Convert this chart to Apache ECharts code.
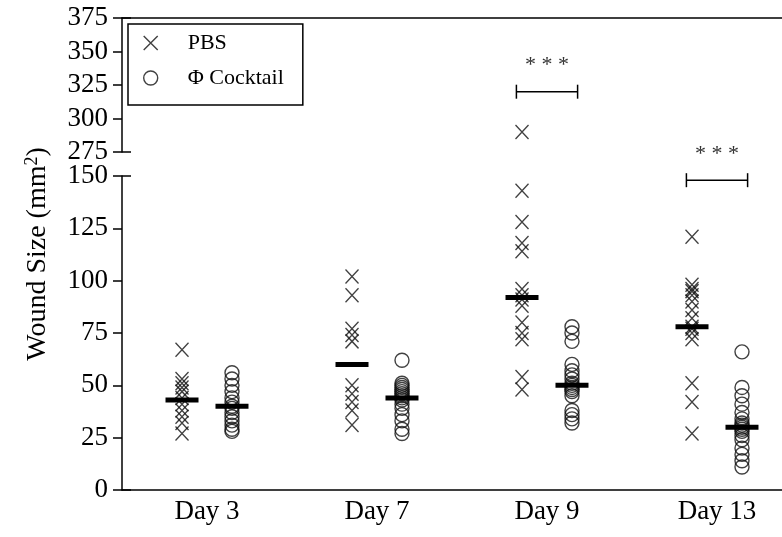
<!DOCTYPE html>
<html>
<head>
<meta charset="utf-8">
<title>Wound Size</title>
<script src="https://cdn.jsdelivr.net/npm/echarts@6/dist/echarts.min.js"></script>
<style>
	* {
		margin: 0;
		padding: 0
	}
	html,
	body {
		width: 100%;
		height: 100%;
		background: #fff;
	}
	#main {
		width: 782px;
		height: 537px;
	}
</style>
</head>
<body>
<div id="main"></div>
<script>
	// categories
	var days = ['Day 3', 'Day 7', 'Day 9', 'Day 13'];

	// PBS group, one array per day (mm2)
	var pbsDay3 = [67, 53, 51, 49, 47, 44, 41, 38, 35, 32, 27];
	var pbsDay7 = [102, 93, 77, 74, 71, 50, 46, 42, 38, 31];
	var pbsDay9 = [290, 143, 128, 118, 114, 96, 93, 91, 88, 80, 75, 72, 54, 48];
	var pbsDay13 = [121, 98, 96, 95, 93, 90, 86, 82, 78, 77, 75, 72, 51, 42, 27];

	// phage cocktail group
	var cocktailDay3 = [56, 53, 50, 47, 44, 42, 40, 39, 37, 35, 33, 31, 29, 28];
	var cocktailDay7 = [62, 51, 50, 49, 48, 47, 46, 45, 44, 43, 41, 39, 36, 33, 29, 27];
	var cocktailDay9 = [78, 75, 71, 60, 57, 55, 53, 51, 50, 49, 48, 47, 45, 38, 36, 34, 32];
	var cocktailDay13 = [66, 49, 45, 41, 37, 34, 32, 31, 30, 29, 28, 26, 24, 20, 17, 14, 11];

	// median bars
	var pbsMedian = [43, 60, 92, 78];
	var cocktailMedian = [40, 44, 50, 30];

	// significance brackets
	var sigDays = [2, 3];
	var sigHeights = [320, 148];
	var sigLabels = ['* * *', '* * *'];

	// axis tick labels
	var upperTicks = [275, 300, 325, 350, 375];
	var lowerTicks = [0, 25, 50, 75, 100, 125, 150];

	var FONT = 'Liberation Serif';
	var cross = 'path://M0,0L10,10M10,0L0,10';
	var breakAt = 150; // values above this sit on the upper segment

	function points(groups, shift) {
		var lo = [], hi = [];
		groups.forEach(function(arr, i) {
			arr.forEach(function(v) {
				(v > breakAt ? hi : lo).push([i + shift, v]);
			});
		});
		return { lo: lo, hi: hi };
	}

	var pbs = points([pbsDay3, pbsDay7, pbsDay9, pbsDay13], -0.147);
	var coc = points([cocktailDay3, cocktailDay7, cocktailDay9, cocktailDay13], 0.147);

	var medianData = [];
	pbsMedian.forEach(function(v, i) { medianData.push([i - 0.147, v]); });
	cocktailMedian.forEach(function(v, i) { medianData.push([i + 0.147, v]); });

	var sigLo = [], sigHi = [];
	sigDays.forEach(function(d, i) {
		(sigHeights[i] > breakAt ? sigHi : sigLo).push([d, sigHeights[i], sigLabels[i]]);
	});

	var crossStyle = { color: 'rgba(0,0,0,0)', borderColor: '#111', borderWidth: 1.4 };
	var circleStyle = { color: 'rgba(0,0,0,0)', borderColor: '#111', borderWidth: 1.4 };

	function medianItem(params, api) {
		var p = api.coord([api.value(0), api.value(1)]);
		return {
			type: 'rect',
			shape: { x: p[0] - 16.5, y: p[1] - 2.5, width: 33, height: 5 },
			style: { fill: '#000' }
		};
	}

	function bracketItem(params, api) {
		var l = api.coord([api.value(0) - 0.18, api.value(1)]);
		var r = api.coord([api.value(0) + 0.18, api.value(1)]);
		var st = { stroke: '#000', lineWidth: 1.5 };
		return {
			type: 'group',
			children: [
				{ type: 'line', shape: { x1: l[0], y1: l[1], x2: r[0], y2: r[1] }, style: st },
				{ type: 'line', shape: { x1: l[0], y1: l[1] - 7, x2: l[0], y2: l[1] + 7 }, style: st },
				{ type: 'line', shape: { x1: r[0], y1: r[1] - 7, x2: r[0], y2: r[1] + 7 }, style: st },
				{
					type: 'text',
					x: (l[0] + r[0]) / 2,
					y: l[1] - 26,
					style: {
						text: api.value(2),
						fontFamily: FONT,
						fontSize: 22,
						fill: '#333',
						align: 'center',
						verticalAlign: 'middle'
					}
				}
			]
		};
	}

	var tickLabel = { color: '#000', fontFamily: FONT, fontSize: 27, margin: 14 };
	var axisLine = { show: true, onZero: false, lineStyle: { color: '#000', width: 1.5 } };
	var noLine = { show: false, onZero: false };
	var capTick = { show: true, inside: true, length: 9, lineStyle: { color: '#000', width: 1.5 } };

	var upMin = upperTicks[0], upMax = upperTicks[upperTicks.length - 1];
	var loMin = lowerTicks[0], loMax = lowerTicks[lowerTicks.length - 1];

	var chart = echarts.init(document.getElementById('main'));
	chart.setOption({
		animation: false,
		backgroundColor: '#fff',
		grid: [
			{ left: 122, right: -20, top: 18, height: 134, outerBoundsMode: 'none' },
			{ left: 122, right: -20, top: 176, bottom: 47, outerBoundsMode: 'none' }
		],
		legend: {
			left: 128,
			top: 24,
			orient: 'vertical',
			selectedMode: false,
			itemWidth: 32,
			itemHeight: 14,
			itemGap: 13,
			padding: [8, 19, 16, 15],
			borderColor: '#000',
			borderWidth: 1.5,
			textStyle: { color: '#000', fontFamily: FONT, fontSize: 22, padding: [3, 0, 0, 16] },
			data: [
				{ name: 'PBS', icon: cross, itemStyle: crossStyle },
				{ name: 'Φ Cocktail', icon: 'circle', itemStyle: circleStyle }
			]
		},
		graphic: [{
			type: 'text',
			x: 38,
			y: 254,
			rotation: Math.PI / 2,
			style: {
				text: 'Wound Size (mm{s|2})',
				fontFamily: FONT,
				fontSize: 28,
				fill: '#000',
				align: 'center',
				verticalAlign: 'middle',
				rich: { s: { fontFamily: FONT, fontSize: 18, padding: [0, 0, 12, 0], fill: '#000' } }
			}
		}],
		xAxis: [
			{
				gridIndex: 0, type: 'value', min: -0.5, max: 3.5, position: 'top',
				axisLine: axisLine, axisTick: { show: false }, axisLabel: { show: false }, splitLine: { show: false }
			},
			{
				gridIndex: 1, type: 'category', data: days, position: 'bottom',
				axisLine: axisLine,
				axisTick: { alignWithLabel: true, length: 8, lineStyle: { color: '#000', width: 1.5 } },
				axisLabel: { color: '#000', fontFamily: FONT, fontSize: 27, margin: 8 }
			},
			{ gridIndex: 1, type: 'value', min: -0.5, max: 3.5, show: false }
		],
		yAxis: [
			{
				gridIndex: 0, type: 'value', position: 'left', min: upMin, max: upMax, interval: 25,
				axisLine: axisLine,
				axisTick: { show: true, length: 9, lineStyle: { color: '#000', width: 1.5 } },
				axisLabel: tickLabel, splitLine: { show: false }
			},
			{
				// break cap: inner half of the 275 tick
				gridIndex: 0, type: 'value', position: 'left', min: upMin, max: upMax, interval: upMax - upMin,
				axisLine: noLine, axisLabel: { show: false }, splitLine: { show: false },
				axisTick: capTick
			},
			{
				gridIndex: 1, type: 'value', position: 'left', min: loMin, max: loMax, interval: 25,
				axisLine: axisLine,
				axisTick: { show: true, length: 9, lineStyle: { color: '#000', width: 1.5 } },
				axisLabel: tickLabel, splitLine: { show: false }
			},
			{
				// break cap: inner half of the 150 tick
				gridIndex: 1, type: 'value', position: 'left', min: loMin, max: loMax, interval: loMax - loMin,
				axisLine: noLine, axisLabel: { show: false }, splitLine: { show: false },
				axisTick: capTick
			}
		],
		series: [
			{ name: 'PBS', type: 'scatter', xAxisIndex: 2, yAxisIndex: 2, data: pbs.lo, symbol: cross, symbolSize: [13, 14], itemStyle: crossStyle, silent: true },
			{ name: 'PBS', type: 'scatter', xAxisIndex: 0, yAxisIndex: 0, data: pbs.hi, symbol: cross, symbolSize: [13, 14], itemStyle: crossStyle, silent: true },
			{ name: 'Φ Cocktail', type: 'scatter', xAxisIndex: 2, yAxisIndex: 2, data: coc.lo, symbol: 'circle', symbolSize: 14, itemStyle: circleStyle, silent: true },
			{ name: 'Φ Cocktail', type: 'scatter', xAxisIndex: 0, yAxisIndex: 0, data: coc.hi, symbol: 'circle', symbolSize: 14, itemStyle: circleStyle, silent: true },
			{ name: 'median', type: 'custom', xAxisIndex: 2, yAxisIndex: 2, data: medianData, renderItem: medianItem, silent: true, z: 5 },
			{ name: 'sigLo', type: 'custom', xAxisIndex: 2, yAxisIndex: 2, data: sigLo, renderItem: bracketItem, silent: true, clip: false },
			{ name: 'sigHi', type: 'custom', xAxisIndex: 0, yAxisIndex: 0, data: sigHi, renderItem: bracketItem, silent: true, clip: false }
		]
	});
</script>
</body>
</html>
